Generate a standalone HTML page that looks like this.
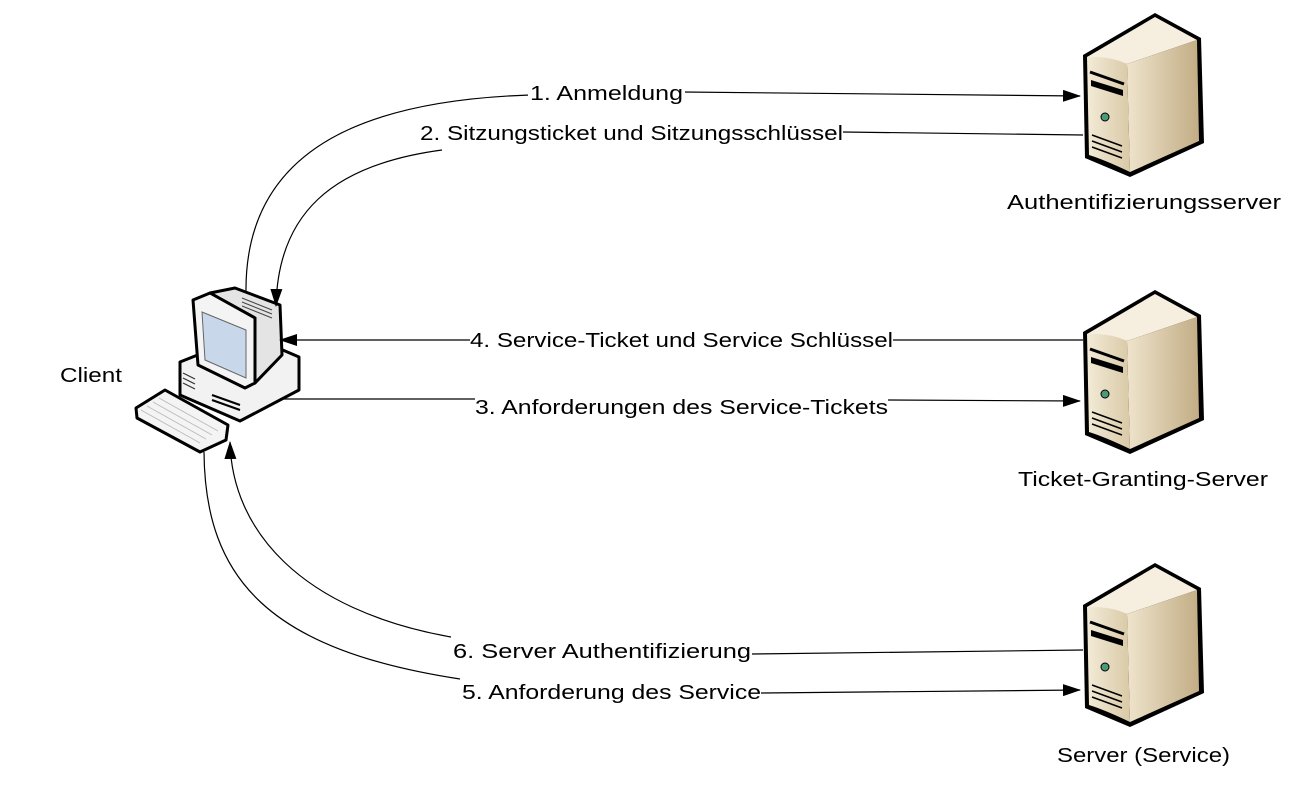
<!DOCTYPE html>
<html><head><meta charset="utf-8"><style>
html,body{margin:0;padding:0;background:#fff;}
svg{display:block;}
text{font-family:"Liberation Sans",sans-serif;font-size:20px;fill:#000;}
</style></head><body>
<svg width="1291" height="792" viewBox="0 0 1291 792" xmlns="http://www.w3.org/2000/svg">
<defs>
<marker id="ah" markerWidth="18" markerHeight="12" refX="17" refY="6" orient="auto" markerUnits="userSpaceOnUse">
<path d="M0,0 L18,6 L0,12 Z" fill="#000"/>
</marker>
<linearGradient id="side" x1="0" x2="1" y1="0" y2="0">
<stop offset="0" stop-color="#efe4cc"/><stop offset="1" stop-color="#c2ad85"/>
</linearGradient>
<linearGradient id="front" x1="0" x2="1">
<stop offset="0" stop-color="#f3ebd8"/><stop offset="1" stop-color="#d9c9a6"/>
</linearGradient>
<g id="srv">
<path d="M1083,55 L1155,13 L1201,38 L1204,143 L1130,177 L1085,158 Z" fill="#000"/>
<path d="M1087,57 L1155,17 L1197,40 L1127,64 Z" fill="#f6efdf"/>
<path d="M1127,64 L1197,40 L1199,141 L1130,172 Z" fill="url(#side)"/>
<path d="M1087,57 Q1110,56 1127,64 L1130,172 Q1105,160 1089,155 Z" fill="url(#front)"/>
<path d="M1090,72 L1124,84" stroke="#000" stroke-width="3"/>
<path d="M1091,80 L1123,90 L1123,96 L1091,86 Z" fill="#000"/>
<circle cx="1105" cy="117" r="4" fill="#4a9a7a" stroke="#000" stroke-width="1"/>
<path d="M1092,135 L1122,146 M1092,141 L1122,152 M1092,147 L1122,158" stroke="#000" stroke-width="1.5"/>
</g>
</defs>

<use href="#srv"/>
<use href="#srv" transform="translate(0,277)"/>
<use href="#srv" transform="translate(0,550)"/>

<!-- client -->
<g stroke="#000" stroke-width="3" stroke-linejoin="round">
<path d="M180,362 L248,335 L299,357 L299,390 L240,421 L180,395 Z" fill="#f2f2f2"/>
<path d="M210,293 L235,288 L280,305 L282,355 L255,383 L255,318 Z" fill="#e4e4e4"/>
<path d="M193,300 L210,293 L255,318 L255,383 L245,388 L198,365 Z" fill="#f4f4f4"/>
<path d="M136,408 L165,390 L228,425 L226,440 L200,452 L137,418 Z" fill="#f4f4f4"/>
</g>
<path d="M202,312 L246,330 L246,378 L205,360 Z" fill="#c9d7ea" stroke="#666" stroke-width="1"/>
<path d="M242,298 L272,310 M242,302 L272,314 M242,306 L272,318" stroke="#444" stroke-width="1"/>
<path d="M212,395 L240,405 M212,400 L240,410" stroke="#000" stroke-width="2"/>
<path d="M183,373 L195,379 M183,378 L195,384 M183,383 L195,389" stroke="#333" stroke-width="1.2"/>
<path d="M141,410 L200,443 M147,406 L206,439 M153,402 L212,435 M159,398 L218,431" stroke="#bbb" stroke-width="1"/>

<!-- connectors -->
<g fill="none" stroke="#000" stroke-width="1.2">
<path d="M246,293 C244,140 380,100 530,95"/>
<path d="M683,92 L1080,96" marker-end="url(#ah)"/>
<path d="M1083,135 L843,132"/>
<path d="M442,150 C330,165 278,215 276,306" marker-end="url(#ah)"/>
<path d="M1083,340 L893,340"/>
<path d="M470,340 L280,340" marker-end="url(#ah)"/>
<path d="M280,399 L475,399"/>
<path d="M888,400 L1080,401" marker-end="url(#ah)"/>
<path d="M1083,650 L752,654"/>
<path d="M451,637 C300,610 232,530 230,442" marker-end="url(#ah)"/>
<path d="M204,452 C205,580 270,650 460,679"/>
<path d="M761,693 L1080,690" marker-end="url(#ah)"/>
</g>

<g>
<rect x="528" y="80" width="157" height="26" fill="#fff"/>
<text x="530" y="100" textLength="153" lengthAdjust="spacingAndGlyphs">1. Anmeldung</text>
<text x="420" y="140" textLength="423" lengthAdjust="spacingAndGlyphs">2. Sitzungsticket und Sitzungsschlüssel</text>
<text x="470" y="347" textLength="423" lengthAdjust="spacingAndGlyphs">4. Service-Ticket und Service Schlüssel</text>
<text x="475" y="414" textLength="413" lengthAdjust="spacingAndGlyphs">3. Anforderungen des Service-Tickets</text>
<text x="453" y="658" textLength="298" lengthAdjust="spacingAndGlyphs">6. Server Authentifizierung</text>
<text x="462" y="699" textLength="299" lengthAdjust="spacingAndGlyphs">5. Anforderung des Service</text>
<text x="60" y="382" textLength="62" lengthAdjust="spacingAndGlyphs">Client</text>
<text x="1007" y="209" textLength="274" lengthAdjust="spacingAndGlyphs">Authentifizierungsserver</text>
<text x="1018" y="486" textLength="250" lengthAdjust="spacingAndGlyphs">Ticket-Granting-Server</text>
<text x="1057" y="762" textLength="173" lengthAdjust="spacingAndGlyphs">Server (Service)</text>
</g>
</svg>
</body></html>
